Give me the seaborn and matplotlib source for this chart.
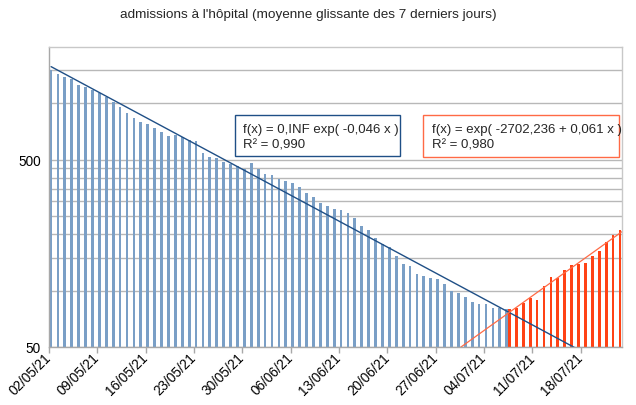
import numpy as np
import pandas as pd
import matplotlib
matplotlib.use('Agg')
import matplotlib.pyplot as plt
import matplotlib.transforms as mtransforms
import seaborn as sns
from matplotlib.ticker import FixedLocator, NullFormatter, FuncFormatter
from matplotlib.patches import Rectangle

# moyenne glissante des admissions, phase de baisse (02/05 -> 07/07)
baisse_vals = [1506, 1438, 1370, 1337, 1257, 1218, 1174, 1131, 1073, 1017,
               957, 886, 829, 789, 770, 737, 705, 665, 677, 660,
               639, 631, 543, 514, 510, 484, 474, 460, 446, 478,
               446, 421, 413, 393, 383, 376, 355, 331, 315, 294,
               281, 273, 268, 260, 245, 220, 210, 191, 178, 170,
               153, 138, 136, 123, 119, 116, 115, 108, 100, 97,
               92, 87, 85, 85, 81, 81, 80]
# phase de hausse (07/07 -> 23/07)
hausse_vals = [80, 81, 86, 91, 89, 106, 118, 117, 128, 137,
               138, 141, 152, 162, 182, 197, 210]

baisse_dates = pd.date_range('2021-05-02', '2021-07-07')
hausse_dates = pd.date_range('2021-07-07', '2021-07-23')
start = baisse_dates[0]

eq_baisse = ['f(x) = 0,INF exp( -0,046 x )', 'R² = 0,990']
eq_hausse = ['f(x) = exp( -2702,236 + 0,061 x )', 'R² = 0,980']

BLUE = '#7a9fc6'
RED = '#ff4215'
BLUE_LINE = '#1f4f86'
RED_LINE = '#ff6a45'
GRID = '#b8b8b8'

df = pd.concat([
    pd.DataFrame({'date': baisse_dates, 'val': baisse_vals, 'serie': 'baisse'}),
    pd.DataFrame({'date': hausse_dates, 'val': hausse_vals, 'serie': 'hausse'}),
])
df['pos'] = (df['date'] - start).dt.days + 0.5

sns.set_theme(style='white')
plt.rcParams['font.family'] = ['Liberation Sans', 'DejaVu Sans']

fig = plt.figure(figsize=(6.36, 4.06), dpi=100)
ax = fig.add_axes([49 / 636, 1 - 348 / 406, (622 - 49) / 636, (348 - 47.7) / 406])

sns.barplot(data=df, x='pos', y='val', hue='serie', hue_order=['baisse', 'hausse'],
            palette=[BLUE, RED], native_scale=True, dodge=True, width=0.8, gap=0,
            saturation=1, linewidth=0, legend=False, errorbar=None, ax=ax)
ax.set_yscale('log')

# courbes de tendance exponentielles
n_days = (hausse_dates[-1] - start).days + 1
bx = (baisse_dates - start).days.values + 0.3
hx = (hausse_dates - start).days.values + 0.7
bfit = np.polyfit(bx, np.log(baisse_vals), 1)
hfit = np.polyfit(hx, np.log(hausse_vals), 1)
xs = np.linspace(bx[0], n_days, 400)
ax.plot(xs, np.exp(np.polyval(bfit, xs)), color=BLUE_LINE, lw=1)
xs = np.linspace(0, n_days, 400)
ax.plot(xs, np.exp(np.polyval(hfit, xs)), color=RED_LINE, lw=0.9)

ax.set_xlim(0, n_days)
ax.set_ylim(50, 2000)
ticks = np.arange(0, n_days, 7)
ax.set_xticks(ticks)
ax.set_xticklabels([(start + pd.Timedelta(days=int(d))).strftime('%d/%m/%y') for d in ticks],
                   rotation=45, ha='right', va='center', rotation_mode='anchor')
shift = mtransforms.ScaledTranslation(6 / 100, -11 / 100, fig.dpi_scale_trans)
for lab in ax.get_xticklabels():
    lab.set_transform(lab.get_transform() + shift)
ax.set_xlabel('')
ax.set_ylabel('')

ax.yaxis.set_major_locator(FixedLocator([50, 500]))
ax.yaxis.set_major_formatter(FuncFormatter(lambda v, p: f'{v:g}'))
ax.yaxis.set_minor_locator(FixedLocator(list(range(100, 500, 50)) + [1000, 1500]))
ax.yaxis.set_minor_formatter(NullFormatter())
ax.grid(True, which='both', axis='y', color=GRID, lw=1)
ax.grid(False, axis='x')
ax.set_axisbelow(True)

ax.tick_params(axis='both', which='major', direction='out', length=4, width=1,
               color='#a8a8a8', labelsize=9.8, labelcolor='black', pad=2)
ax.tick_params(axis='y', which='minor', length=0)
ax.tick_params(axis='x', bottom=True)
for side in ['left', 'bottom']:
    ax.spines[side].set_color('#a8a8a8')
for side in ['top', 'right']:
    ax.spines[side].set_color('#c8c8c8')
for s in ax.spines.values():
    s.set_linewidth(1)

fig.text(308 / 636, 1 - 15 / 406, "admissions à l'hôpital (moyenne glissante des 7 derniers jours)",
         ha='center', va='center', fontsize=9.7)


def eq_box(x0, y0, x1, y1, tx, lines, edge):
    fig.add_artist(Rectangle((x0 / 636, 1 - y1 / 406), (x1 - x0) / 636, (y1 - y0) / 406,
                             transform=fig.transFigure, facecolor='white', edgecolor=edge, lw=1))
    fig.text(tx / 636, 1 - 129.5 / 406, lines[0], ha='left', va='center', fontsize=9.5)
    fig.text(tx / 636, 1 - 145 / 406, lines[1], ha='left', va='center', fontsize=9.5)


eq_box(235, 115.7, 400, 156.7, 243.3, eq_baisse, BLUE_LINE)
eq_box(423.3, 116, 619.3, 158.3, 431.7, eq_hausse, RED_LINE)

fig.savefig('out.png', dpi=100)
